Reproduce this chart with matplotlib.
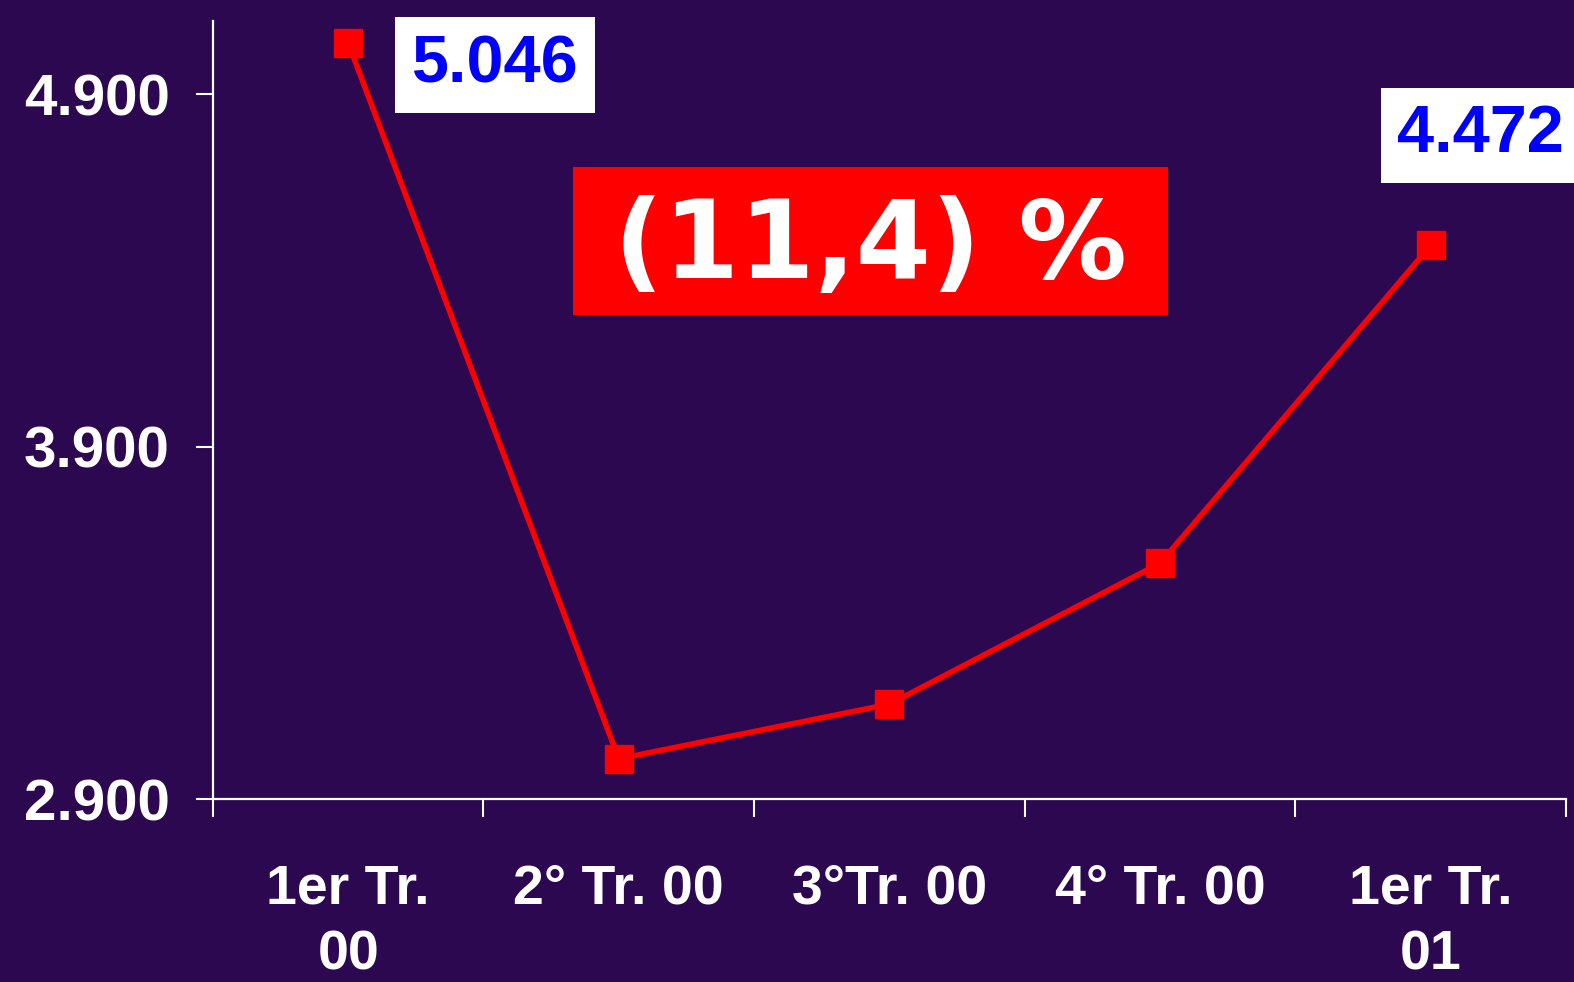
import matplotlib
matplotlib.use('Agg')
import matplotlib.pyplot as plt
from matplotlib.patches import Rectangle
from matplotlib.ticker import FixedLocator, FuncFormatter

# datos
categorias = ['1er Tr.\n00', '2° Tr. 00', '3°Tr. 00', '4° Tr. 00', '1er Tr.\n01']
valores = [5046, 3015, 3170, 3570, 4472]
yticks = [2900, 3900, 4900]
etiqueta_var = '(11,4) %'

fondo = '#2B0850'
rojo = '#FF0000'
fuente = 'Liberation Sans'

fig = plt.figure(figsize=(15.74, 9.82), dpi=100, facecolor=fondo)
ax = fig.add_axes([0.1352, 0.186, 0.8598, 0.7926])
ax.set_facecolor(fondo)

x = list(range(len(valores)))
ax.plot(x, valores, color=rojo, linewidth=4, marker='s', markersize=20,
        markeredgecolor=rojo, markerfacecolor=rojo, zorder=3)

ax.set_xlim(-0.5, len(valores) - 0.5)
ax.set_ylim(2900, 5108)

# ejes
for s in ['top', 'right']:
    ax.spines[s].set_visible(False)
for s in ['left', 'bottom']:
    ax.spines[s].set_color('white')
    ax.spines[s].set_linewidth(1.6)

ax.set_yticks(yticks)
ax.yaxis.set_major_formatter(FuncFormatter(lambda v, p: f'{int(v):,}'.replace(',', '.')))
ax.tick_params(axis='y', colors='white', length=12, width=1.5, pad=19)

ax.set_xticks(x)
ax.set_xticklabels(categorias, linespacing=1.35)
ax.xaxis.set_minor_locator(FixedLocator([i - 0.5 for i in range(len(valores) + 1)]))
ax.tick_params(axis='x', which='major', colors='white', length=0, pad=46)
ax.tick_params(axis='x', which='minor', colors='white', length=13, width=1.5)

for lab in ax.get_xticklabels():
    lab.set_fontsize(40)
for lab in ax.get_yticklabels():
    lab.set_fontsize(42)
for lab in ax.get_xticklabels() + ax.get_yticklabels():
    lab.set_fontfamily(fuente)
    lab.set_fontweight('bold')
    lab.set_color('white')

# etiquetas de valor
for i, off in [(0, (106, -16)), (len(valores) - 1, (36, 79))]:
    ax.annotate(f'{valores[i]:,}'.replace(',', '.'), (x[i], valores[i]),
                xytext=off, textcoords='offset points', ha='center', va='center',
                fontsize=48, fontweight='bold', family=fuente, color='#0000FF',
                bbox=dict(boxstyle='square,pad=0.25', facecolor='white', edgecolor='none'),
                annotation_clip=False, zorder=5)

# recuadro de variacion
fig.patches.append(Rectangle((0.364, 0.679), 0.378, 0.151, transform=fig.transFigure,
                             facecolor=rojo, edgecolor='none', zorder=4))
fig.text(0.553, 0.747, etiqueta_var, ha='center', va='center', fontsize=78,
         fontweight='bold', family='DejaVu Sans', color='white', zorder=5)

fig.savefig('out.png', dpi=100, facecolor=fondo)
